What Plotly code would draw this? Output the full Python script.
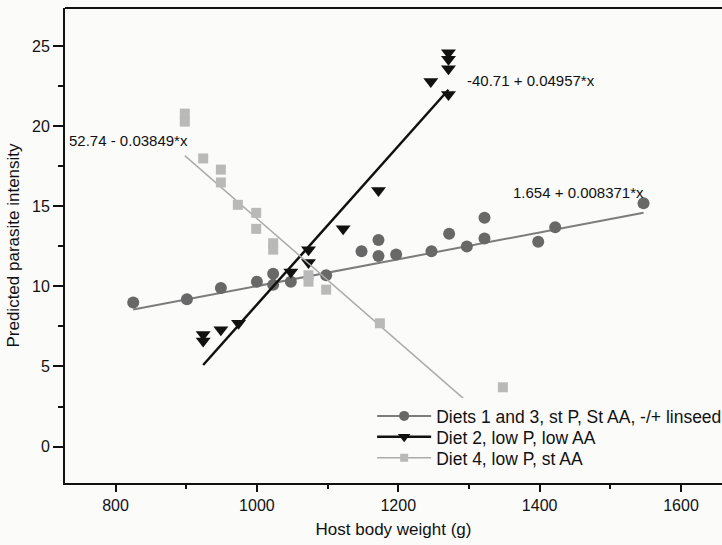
import plotly.graph_objects as go

# Diets 1 and 3 (standard P, standard AA, with/without linseed)
circ_x = [825, 901, 949, 1000, 1023, 1023, 1048, 1098, 1148, 1172, 1172, 1197,
          1247, 1272, 1297, 1322, 1322, 1398, 1422, 1547]
circ_y = [9.0, 9.2, 9.9, 10.3, 10.8, 10.1, 10.3, 10.7, 12.2, 12.9, 11.9, 12.0,
          12.2, 13.3, 12.5, 14.3, 13.0, 12.8, 13.7, 15.2]

# Diet 2 (low P, low AA)
tri_x = [924, 924, 949, 974, 1048, 1073, 1073, 1122, 1172, 1246, 1271, 1271, 1271, 1271]
tri_y = [7.0, 6.6, 7.3, 7.7, 10.9, 12.3, 11.5, 13.6, 16.0, 22.8, 24.6, 24.2, 23.6, 22.0]

# Diet 4 (low P, standard AA)
sq_x = [898, 898, 924, 949, 949, 973, 999, 999, 1023, 1023, 1073, 1073, 1098, 1174, 1348]
sq_y = [20.8, 20.3, 18.0, 17.3, 16.5, 15.1, 14.6, 13.6, 12.7, 12.3, 10.7, 10.3, 9.8, 7.7, 3.7]

# Fitted regressions: intercept, slope
fit_circ = (1.654, 0.008371)
fit_tri = (-40.71, 0.04957)
fit_sq = (52.74, -0.03849)

names = ["Diets 1 and 3, st P, St AA, -/+ linseed",
         "Diet 2, low P, low AA",
         "Diet 4, low P, st AA"]

FONT = "Liberation Sans, Arial, sans-serif"
BG = "#fbfbfa"
C_CIRC, L_CIRC = "#686868", "#7c7c7c"
C_TRI, L_TRI = "#111111", "#111111"
C_SQ, L_SQ = "#b9b9b9", "#ababab"


def fit_line(xs, coef):
    a, b = coef
    x0, x1 = min(xs), max(xs)
    return [x0, x1], [a + b * x0, a + b * x1]


fig = go.Figure()

series = [
    (circ_x, circ_y, fit_circ, "circle", 12, C_CIRC, L_CIRC, 2),
    (tri_x, tri_y, fit_tri, "triangle-down", 13, C_TRI, L_TRI, 2.5),
    (sq_x, sq_y, fit_sq, "square", 10, C_SQ, L_SQ, 1.5),
]
legend_ids = ["legend", "legend2", "legend3"]

for (xs, ys, coef, sym, size, mc, lc, lw), name, lg in zip(series, names, legend_ids):
    lx, ly = fit_line(xs, coef)
    fig.add_trace(go.Scatter(x=lx, y=ly, mode="lines",
                             line=dict(color=lc, width=lw), showlegend=False))
    fig.add_trace(go.Scatter(x=xs, y=ys, mode="markers",
                             marker=dict(symbol=sym, size=size, color=mc,
                                         line=dict(width=0)),
                             showlegend=False))
    # legend entry showing line with marker
    fig.add_trace(go.Scatter(x=[None], y=[None], mode="lines+markers", name=name,
                             legend=lg, line=dict(color=lc, width=lw),
                             marker=dict(symbol=sym, size=size - 2, color=mc)))

fig.add_annotation(x=905, y=19.15, xanchor="right", yanchor="middle", showarrow=False,
                   text="52.74 - 0.03849*x", font=dict(size=15, color="#111"))
fig.add_annotation(x=1295, y=22.9, xanchor="left", yanchor="middle", showarrow=False,
                   text="-40.71 + 0.04957*x", font=dict(size=15, color="#111"))
fig.add_annotation(x=1360, y=15.9, xanchor="left", yanchor="middle", showarrow=False,
                   text="1.654 + 0.008371*x", font=dict(size=15, color="#111"))

# top frame line
fig.add_shape(type="line", xref="paper", yref="paper", x0=0, x1=1, y0=1, y1=1,
              line=dict(color="#111", width=2))

legend_style = dict(x=0.4675, xanchor="left", yanchor="middle",
                    borderwidth=0, itemwidth=54, font=dict(size=17.5, color="#111"))

fig.update_layout(
    width=722, height=545,
    margin=dict(l=65, r=0, t=8, b=62, autoexpand=False),
    paper_bgcolor=BG, plot_bgcolor=BG,
    font=dict(family=FONT, color="#111"),
    legend=dict(y=0.141, bgcolor=BG, **legend_style),
    legend2=dict(y=0.097, bgcolor="rgba(0,0,0,0)", **legend_style),
    legend3=dict(y=0.053, bgcolor="rgba(0,0,0,0)", **legend_style),
    xaxis=dict(range=[728.5, 1658], tickvals=[800, 1000, 1200, 1400, 1600],
               showgrid=False, zeroline=False, showline=True, linecolor="#111",
               linewidth=2, ticks="outside", ticklen=7, tickwidth=1.5, tickcolor="#111",
               minor=dict(dtick=100, tick0=0, ticks="outside", ticklen=4, tickcolor="#111"),
               tickfont=dict(size=16),
               title=dict(text="Host body weight (g)", font=dict(size=17), standoff=10)),
    yaxis=dict(range=[-2.28, 27.4], tickvals=[0, 5, 10, 15, 20, 25],
               showgrid=False, zeroline=False, showline=True, linecolor="#111",
               linewidth=2, ticks="outside", ticklen=10, tickwidth=1.5, tickcolor="#111",
               minor=dict(dtick=2.5, tick0=0, ticks="outside", ticklen=5, tickcolor="#111"),
               tickfont=dict(size=16),
               title=dict(text="Predicted parasite intensity", font=dict(size=17), standoff=8)),
)

fig.write_html("out.html")
